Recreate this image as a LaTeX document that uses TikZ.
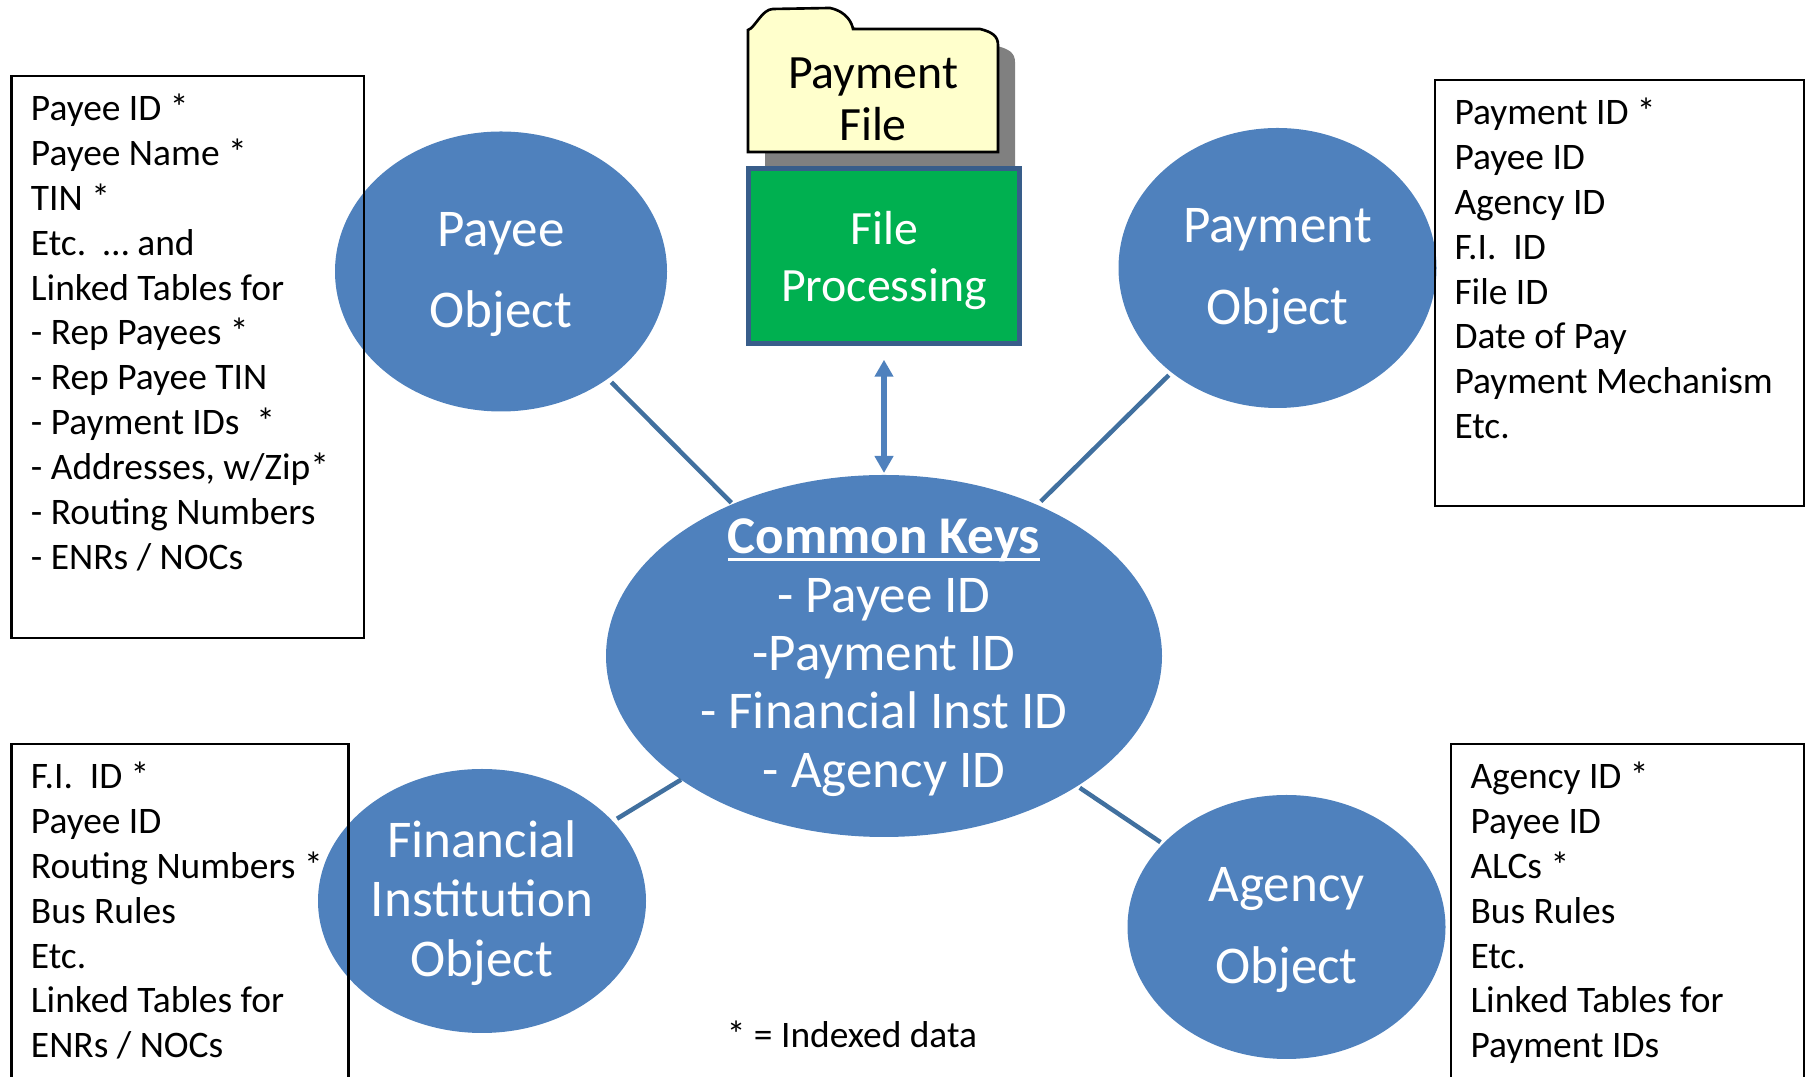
\documentclass[tikz,border=0pt]{standalone}
\usepackage{fontspec}
\setmainfont{Carlito}
\usetikzlibrary{arrows.meta, positioning, shapes.geometric}
\definecolor{ovalblue}{HTML}{4F81BD}
\definecolor{linkblue}{HTML}{41709F}
\definecolor{rimblue}{HTML}{385D8A}
\definecolor{filegreen}{HTML}{00B050}
\definecolor{folderyellow}{HTML}{FFFFCC}
\newcommand{\titleline}[1]{\setbox0=\hbox{#1}\rlap{\rule[-2pt]{\wd0}{0.85pt}}\box0}

\begin{document}
\begin{tikzpicture}[
    x=0.1mm, y=-0.1mm,
    oval/.style={draw=none, ellipse, fill=ovalblue, text=white, align=center, text depth=0pt, inner sep=0pt, outer sep=0pt, font=\fontsize{15.1}{16.6}\selectfont},
    wide_oval/.style={oval, text depth=0.9pt, font=\fontsize{15.1}{23.2}\selectfont},
    listbox/.style={draw=black, line width=0.6pt, rectangle, anchor=north west, align=flush left, text height=3.15mm, inner xsep=1.95mm, inner ysep=1.3mm, outer sep=0pt, font=\fontsize{10.65}{12.77}\selectfont},
    link/.style={draw=linkblue, line width=0.45mm},
    arrow/.style={{Triangle[length=1.7mm, width=1.8mm]}-{Triangle[length=1.7mm, width=1.8mm]}, draw=ovalblue, line width=0.6mm}
]
\useasboundingbox (0,0) rectangle (1808,1077);

% Objects round the common keys
\node (keys) [oval, text depth=1.6pt, inner ysep=-1mm, minimum width=55.6mm, minimum height=36.2mm] at (884,656) {\titleline{\textbf{Common Keys}}\\- Payee ID\\-Payment ID\\- Financial Inst ID\\- Agency ID};
\node (payee) [wide_oval, minimum width=33.2mm, minimum height=28mm] at (501,271.5) {Payee\\Object};
\node (payment) [wide_oval, minimum width=31.8mm, minimum height=28mm] at (1277.5,268) {Payment\\Object};
\node (bank) [oval, text depth=1.5pt, font=\fontsize{15.1}{16.9}\selectfont, minimum width=32.8mm, minimum height=26.4mm] at (482,901) {Financial\\Institution\\Object};
\node (agency) [wide_oval, minimum width=31.8mm, minimum height=26.4mm] at (1286.5,927) {Agency\\Object};

% Folder with its shadow
\path [fill=black!50, shift={(17,17)}] (748,30) .. controls (755,28) and (762,9) .. (773,9) -- (830,8) .. controls (848,12) and (852,24) .. (853,29) -- (980,29) .. controls (992,32) and (998,36) .. (998,45) -- (998,152) -- (748,152) -- cycle;
\draw [fill=folderyellow, line width=0.75pt] (748,30) .. controls (755,28) and (762,9) .. (773,9) -- (830,8) .. controls (848,12) and (852,24) .. (853,29) -- (980,29) .. controls (992,32) and (998,36) .. (998,45) -- (998,152) -- (748,152) -- cycle;
\node (file) [align=center, inner sep=0pt, font=\fontsize{13.6}{14.8}\selectfont] at (873,99) {Payment\\File};

% File processing
\node (process) [draw=rimblue, line width=0.5mm, fill=filegreen, text=white, rectangle, minimum width=27.1mm, minimum height=17.55mm, align=center, text depth=-0.8pt, inner sep=0pt, outer sep=0pt, font=\fontsize{13.6}{16.2}\selectfont] at (884,256) {File\\Processing};

% Attribute lists
\node (payee_list) [listbox, text width=31.35mm, text depth=50.45mm] at (11.5,76) {Payee ID *\\Payee Name *\\TIN *\\Etc.\ \ … and\\Linked Tables for\\- Rep Payees *\\- Rep Payee TIN\\- Payment IDs\ \ *\\- Addresses, w/Zip*\\- Routing Numbers\\- ENRs / NOCs};
\node (payment_list) [listbox, text width=33mm, text depth=36.85mm] at (1435,80) {Payment ID *\\Payee ID\\Agency ID\\F.I.\ \ ID\\File ID\\Date of Pay\\Payment Mechanism\\Etc.};
\node (bank_list) [listbox, text width=29.8mm, text depth=29.25mm] at (11.5,744) {F.I.\ \ ID *\\Payee ID\\Routing Numbers *\\Bus Rules\\Etc.\\Linked Tables for\\ENRs / NOCs};
\node (agency_list) [listbox, text width=31.4mm, text depth=29.25mm] at (1451,744) {Agency ID *\\Payee ID\\ALCs *\\Bus Rules\\Etc.\\Linked Tables for\\Payment IDs};

\node (note) [inner sep=0pt, font=\fontsize{10.65}{12.77}\selectfont] at (852,1034) {* = Indexed data};

% Connections
\draw [link, shorten <=0.5mm, shorten >=0.2mm] (payee) -- (keys);
\draw [link, shorten <=0.4mm, shorten >=0.5mm] (payment) -- (keys);
\draw [link, shorten <=0.5mm] (bank) -- (keys);
\draw [link, shorten <=0.3mm, shorten >=0.3mm] (agency) -- (keys);
\draw [arrow, shorten <=1.6mm, shorten >=0.2mm] (process.south) -- (keys.north);

\end{tikzpicture}
\end{document}
